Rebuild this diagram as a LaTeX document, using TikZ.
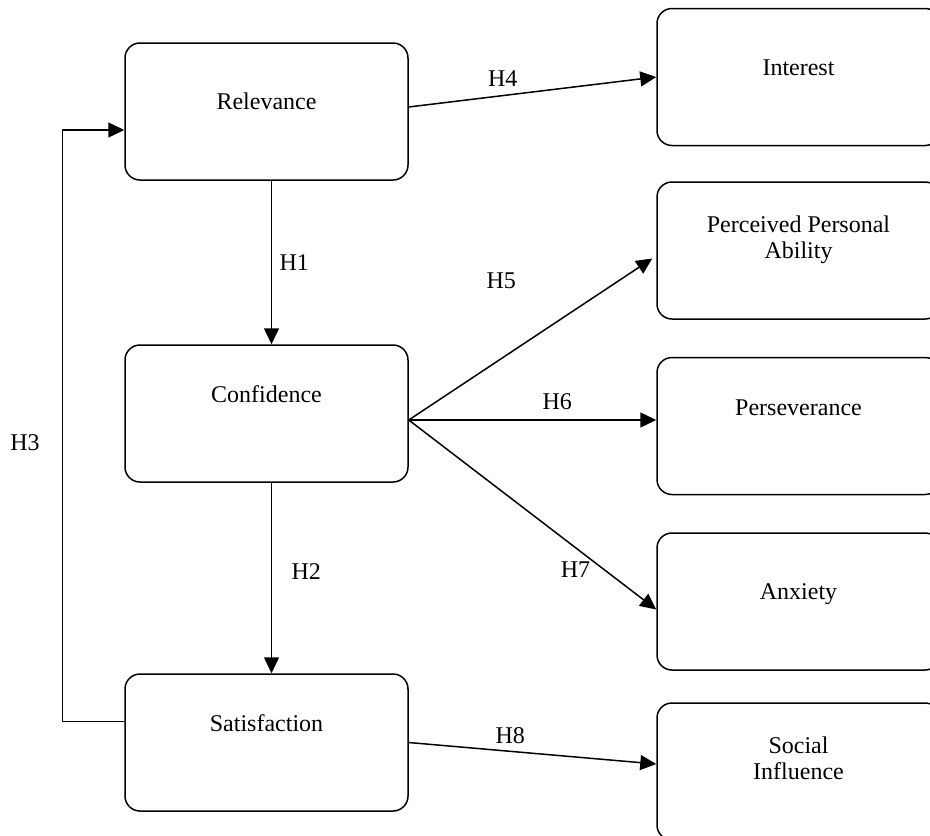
\documentclass[tikz,border=0pt]{standalone}
\usepackage{fontspec}
\setmainfont{Liberation Serif}
\usetikzlibrary{arrows.meta, positioning}
\tikzset{
  factor/.style={draw, rectangle, rounded corners=15pt, minimum width=283pt, minimum height=137pt, line width=1.5pt},
  oneline/.style={text height=17pt, text depth=21pt},
  raised/.style={text height=17pt, text depth=39pt},
  twoline/.style={align=center, text depth=26pt},
  arr/.style={line width=1.5pt, -{Triangle[length=16pt,width=15pt]}},
}
\begin{document}
\begin{tikzpicture}[x=1pt, y=-1pt, font=\fontsize{24}{26}\selectfont]
\useasboundingbox (0,0) rectangle (930,836);
\clip (0,0) rectangle (930,836);
    \node[factor, oneline] (rel) at (266.5,111.5) {Relevance};
    \node[factor, raised] (conf) at (266.5,413.5) {Confidence};
    \node[factor, raised] (sat) at (266.5,742.5) {Satisfaction};
    \node[factor, oneline] (int) at (798.5,77) {Interest};
    \node[factor, twoline] (ppa) at (798.5,250.5) {Perceived Personal\\Ability};
    \node[factor, raised] (pers) at (798.5,426) {Perseverance};
    \node[factor, oneline] (anx) at (798.5,601.5) {Anxiety};
    \node[factor, twoline] (soc) at (798.5,771.5) {Social\\Influence};
    \coordinate (cout) at ([yshift=-6.5pt]conf.east);
\draw[arr] ([xshift=5pt]rel.south) -- ([xshift=5pt]conf.north) node [midway, right=4pt] (l1) {H1};
\draw[arr] ([xshift=5pt]conf.south) -- ([xshift=5pt]sat.north) node [midway, right=16pt, yshift=6pt] (l2) {H2};
\draw[arr] ([yshift=21pt]sat.west) -- ++(-62,0) |- ([yshift=-18.5pt]rel.west);
    \node (l3) at (25,443) {H3};
\draw[arr] ([yshift=4.5pt]rel.east) -- (int.west) node [pos=0.38, above=5pt] (l4) {H4};
\draw[arr] (cout) -- ([xshift=-4pt,yshift=-8pt]ppa.west) node [pos=0.38, above=66pt] (l5) {H5};
\draw[arr] (cout) -- ([yshift=6pt]pers.west) node [pos=0.6, above=6pt] (l6) {H6};
\draw[arr] (cout) -- ([yshift=-8pt]anx.west) node [pos=0.79, left=10pt] (l7) {H7};
\draw[arr] (sat.east) -- ([yshift=7.5pt]soc.west) node [pos=0.41, above=3.5pt] (l8) {H8};
    \end{tikzpicture}
\end{document}
